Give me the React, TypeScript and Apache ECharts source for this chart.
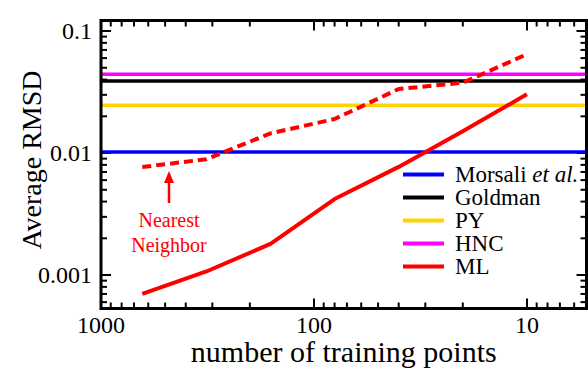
import { useEffect, useRef } from 'react';
import * as echarts from 'echarts';

// Training-set sizes (x) and average RMSD (y)
const trainingPoints = [640, 320, 160, 80, 40, 20, 10];
const mlRmsd = [0.0007, 0.00107, 0.0018, 0.0042, 0.0077, 0.0151, 0.0303];
const nearestNeighborRmsd = [0.00768, 0.0089, 0.0145, 0.019, 0.0335, 0.0377, 0.0645];

// Closure theories: constant RMSD
const theoryNames = ['Morsali et al.', 'Goldman', 'PY', 'HNC'];
const theoryRmsd = [0.0102, 0.0389, 0.0246, 0.0442];
const theoryColors = ['#0000ff', '#000000', '#ffd200', '#ff00ff'];

const xTickLabels = [1000, 100, 10];
const yTickLabels = [0.001, 0.01, 0.1];

const X_MIN = 5.25;
const X_MAX = 1000;
const Y_MIN = 0.000532;
const Y_MAX = 0.122;

const FONT = 'Liberation Serif';

const isTick = (v: number, ticks: number[]) =>
  ticks.find((t) => Math.abs(Math.log10(v / t)) < 1e-6);

// 2..9 x 10^k positions inside a range, for log-axis minor ticks
const minorValues = (lo: number, hi: number) => {
  const out: number[] = [];
  for (let e = Math.floor(Math.log10(lo)); e <= Math.ceil(Math.log10(hi)); e++) {
    for (let m = 2; m <= 9; m++) {
      const v = m * Math.pow(10, e);
      if (v > lo && v < hi) out.push(v);
    }
  }
  return out;
};

export default function App() {
  const ref = useRef<HTMLDivElement>(null);

  useEffect(() => {
    if (!ref.current) return;
    const chart = echarts.init(ref.current, undefined, { renderer: 'svg' });

    const xAxisBase = {
      type: 'log' as const,
      logBase: 10,
      min: X_MIN,
      max: X_MAX,
      inverse: true,
      splitLine: { show: false },
      axisLine: { show: false },
      axisTick: { show: true, inside: true, length: 10, lineStyle: { color: '#000', width: 2 } },
    };
    const yAxisBase = {
      type: 'log' as const,
      logBase: 10,
      min: Y_MIN,
      max: Y_MAX,
      splitLine: { show: false },
      axisLine: { show: false },
      axisTick: { show: true, inside: true, length: 10, lineStyle: { color: '#000', width: 2 } },
    };

    const tickLine = (x1: number, y1: number, x2: number, y2: number) => ({
      type: 'line',
      shape: { x1, y1, x2, y2 },
      style: { stroke: '#000', lineWidth: 2 },
    });

    const series: any[] = [];
    theoryNames.forEach((name, i) => {
      series.push({
        name,
        type: 'line',
        color: theoryColors[i],
        showSymbol: false,
        lineStyle: { color: theoryColors[i], width: 3.5 },
        data: [
          [X_MAX, theoryRmsd[i]],
          [X_MIN, theoryRmsd[i]],
        ],
        z: 2,
      });
    });
    series.push({
      name: 'ML',
      type: 'line',
      color: '#ff0000',
      showSymbol: false,
      lineStyle: { color: '#ff0000', width: 4 },
      data: trainingPoints.map((n, i) => [n, mlRmsd[i]]),
      z: 3,
    });
    series.push({
      name: 'Nearest Neighbor',
      type: 'line',
      color: '#ff0000',
      showSymbol: false,
      lineStyle: { color: '#ff0000', width: 4, type: [9, 5] },
      data: trainingPoints.map((n, i) => [n, nearestNeighborRmsd[i]]),
      z: 3,
    });
    // minor ticks on bottom and top edges
    series.push({
      type: 'custom',
      silent: true,
      clip: false,
      data: minorValues(X_MIN, X_MAX).map((v) => [v, 0.01]),
      renderItem: (params: any, api: any) => {
        const p = api.coord([api.value(0), api.value(1)]);
        const cs = params.coordSys;
        return {
          type: 'group',
          children: [
            tickLine(p[0], cs.y + cs.height, p[0], cs.y + cs.height - 6),
            tickLine(p[0], cs.y, p[0], cs.y + 6),
          ],
        };
      },
      z: 5,
    });
    // minor ticks on left and right edges
    series.push({
      type: 'custom',
      silent: true,
      clip: false,
      data: minorValues(Y_MIN, Y_MAX).map((v) => [100, v]),
      renderItem: (params: any, api: any) => {
        const p = api.coord([api.value(0), api.value(1)]);
        const cs = params.coordSys;
        return {
          type: 'group',
          children: [
            tickLine(cs.x, p[1], cs.x + 6, p[1]),
            tickLine(cs.x + cs.width, p[1], cs.x + cs.width - 6, p[1]),
          ],
        };
      },
      z: 5,
    });

    chart.setOption({
      animation: false,
      backgroundColor: '#fff',
      grid: {
        left: 101,
        right: 1.5,
        top: 20.5,
        bottom: 59.5,
        outerBoundsMode: 'none',
        containLabel: false,
        show: true,
        borderColor: '#000',
        borderWidth: 3,
        backgroundColor: 'transparent',
        z: 10,
      },
      xAxis: [
        {
          ...xAxisBase,
          position: 'bottom',
          axisLabel: {
            margin: 4,
            fontFamily: FONT,
            fontSize: 24,
            color: '#000',
            formatter: (v: number) => {
              const t = isTick(v, xTickLabels);
              return t ? String(t) : '';
            },
          },
          name: 'number of training points',
          nameLocation: 'middle',
          nameGap: 28,
          nameMoveOverlap: false,
          nameTextStyle: { fontFamily: FONT, fontSize: 30, color: '#000' },
        },
        {
          ...xAxisBase,
          position: 'top',
          axisLabel: { show: false },
        },
      ],
      yAxis: [
        {
          ...yAxisBase,
          position: 'left',
          axisLabel: {
            margin: 9,
            fontFamily: FONT,
            fontSize: 24,
            color: '#000',
            formatter: (v: number) => {
              const t = isTick(v, yTickLabels);
              return t ? String(t) : '';
            },
          },
        },
        {
          ...yAxisBase,
          position: 'right',
          axisLabel: { show: false },
        },
      ],
      legend: {
        orient: 'vertical',
        left: 403,
        top: 163,
        padding: 0,
        itemWidth: 41,
        itemHeight: 4,
        itemGap: 0,
        icon: 'rect',
        data: [...theoryNames, 'ML'],
        formatter: (name: string) =>
          name === 'Morsali et al.' ? '{n|Morsali }{i|et al.}' : `{n|${name}}`,
        textStyle: {
          fontFamily: FONT,
          fontSize: 23,
          color: '#000',
          rich: {
            n: { fontFamily: FONT, fontSize: 23, color: '#000', lineHeight: 28, padding: [0, 0, 0, 6] },
            i: { fontFamily: FONT, fontSize: 23, color: '#000', lineHeight: 28, fontStyle: 'italic' },
          },
        },
      },
      graphic: [
        {
          type: 'text',
          x: 31,
          y: 160,
          rotation: Math.PI / 2,
          style: {
            text: 'Average RMSD',
            font: `28px "${FONT}"`,
            fill: '#000',
            align: 'center',
            verticalAlign: 'middle',
          },
        },
        {
          type: 'line',
          shape: { x1: 169, y1: 203, x2: 169, y2: 180 },
          style: { stroke: '#ff0000', lineWidth: 2.5 },
        },
        {
          type: 'polygon',
          shape: { points: [[169, 171], [164, 183], [174, 183]] },
          style: { fill: '#ff0000' },
        },
        {
          type: 'text',
          x: 169,
          y: 232,
          style: {
            text: 'Nearest\nNeighbor',
            font: `20px "${FONT}"`,
            lineHeight: 25,
            fill: '#ff0000',
            align: 'center',
            verticalAlign: 'middle',
          },
        },
      ],
      series,
    });

    return () => chart.dispose();
  }, []);

  return <div ref={ref} style={{ width: 588, height: 368, position: 'absolute', left: 0, top: 0 }} />;
}
